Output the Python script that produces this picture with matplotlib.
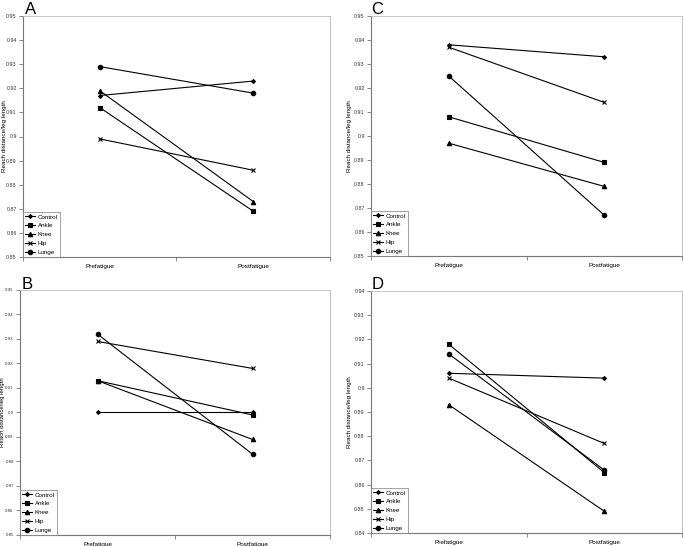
import matplotlib
matplotlib.use("Agg")
import matplotlib.pyplot as plt
import numpy as np

plt.rcParams["font.family"] = ["Liberation Sans", "DejaVu Sans"]

conditions = ["Prefatigue", "Postfatigue"]
series = ["Control", "Ankle", "Knee", "Hip", "Lunge"]

panel_A = {"Control": [0.917, 0.923], "Ankle": [0.912, 0.869], "Knee": [0.919, 0.873],
           "Hip": [0.899, 0.886], "Lunge": [0.929, 0.918]}
panel_B = {"Control": [0.900, 0.900], "Ankle": [0.913, 0.899], "Knee": [0.913, 0.889],
           "Hip": [0.929, 0.918], "Lunge": [0.932, 0.883]}
panel_C = {"Control": [0.938, 0.933], "Ankle": [0.908, 0.889], "Knee": [0.897, 0.879],
           "Hip": [0.937, 0.914], "Lunge": [0.925, 0.867]}
panel_D = {"Control": [0.906, 0.904], "Ankle": [0.918, 0.865], "Knee": [0.893, 0.849],
           "Hip": [0.904, 0.877], "Lunge": [0.914, 0.866]}

ylims = {"A": (0.85, 0.95), "B": (0.85, 0.95), "C": (0.85, 0.95), "D": (0.84, 0.94)}
yticks_A = [0.85, 0.86, 0.87, 0.88, 0.89, 0.9, 0.91, 0.92, 0.93, 0.94, 0.95]
yticks_D = [0.84, 0.85, 0.86, 0.87, 0.88, 0.89, 0.9, 0.91, 0.92, 0.93, 0.94]

markers = {"Control": ("D", 2.0), "Ankle": ("s", 3.2), "Knee": ("^", 3.2),
           "Hip": ("x", 3.5), "Lunge": ("o", 3.2)}

W, H = 683, 546
fig = plt.figure(figsize=(W / 100, H / 100), dpi=100)

# axes rects in pixels: left, top, right, bottom
rects = {"A": (23, 16, 330, 257), "C": (371, 16, 682, 256),
         "B": (20, 290, 330, 535), "D": (371, 291, 682, 533)}
ylabel_x = {"A": 4, "B": 2.5, "C": 349, "D": 349}
tick_fs = {"A": 3.8, "B": 3.2, "C": 3.8, "D": 3.8}
letter_pos = {"A": (25, 2), "B": (22, 277), "C": (371, 2), "D": (372, 277)}
data = {"A": panel_A, "B": panel_B, "C": panel_C, "D": panel_D}

def fmt(v):
    s = f"{v:.2f}"
    if s.endswith("0"):
        s = s[:-1]
    return s

for key in ["A", "B", "C", "D"]:
    l, t, r, b = rects[key]
    ax = fig.add_axes([l / W, 1 - b / H, (r - l) / W, (b - t) / H])
    x = np.array([0.5, 1.5])
    for s in series:
        m, ms = markers[s]
        ax.plot(x, data[key][s], color="black", lw=0.8, marker=m, ms=ms,
                mew=0.8, label=s)
    lo, hi = ylims[key]
    ax.set_ylim(lo, hi)
    ax.set_xlim(0, 2)
    ticks = yticks_D if key == "D" else yticks_A
    ax.set_yticks(ticks)
    ax.set_yticklabels([fmt(v) for v in ticks], fontsize=tick_fs[key], color="#333333")
    ax.set_xticks([0, 1, 2])
    ax.set_xticklabels([])
    ax.set_xticks([0.5, 1.5], minor=True)
    ax.set_xticklabels(conditions, minor=True, fontsize=4.6)
    ax.tick_params(axis="x", which="minor", length=0, pad=5)
    ax.tick_params(axis="x", which="major", length=3, width=0.6, color="#777777")
    ax.tick_params(axis="y", length=3, width=0.6, color="#777777", pad=1.5)
    for sp in ["top", "right"]:
        ax.spines[sp].set_color("#bbbbbb")
        ax.spines[sp].set_linewidth(0.6)
    for sp in ["left", "bottom"]:
        ax.spines[sp].set_color("#777777")
        ax.spines[sp].set_linewidth(0.8)
    ax.set_ylabel("Reach distance/leg length", fontsize=4.3 if key == "B" else 4.5,
                  va="center")
    ax.yaxis.set_label_coords((ylabel_x[key] - l) / (r - l), 0.5)
    leg = ax.legend(loc="lower left", fontsize=4.5, frameon=True, fancybox=False,
                    edgecolor="#777777", borderpad=0.35, labelspacing=0.55,
                    handlelength=1.6, handletextpad=0.4, borderaxespad=0.0)
    leg.get_frame().set_linewidth(0.6)
    lx, ly = letter_pos[key]
    fig.text(lx / W, 1 - ly / H, key, fontsize=12, ha="left", va="top")

fig.savefig("out.png", dpi=100, facecolor="white")
